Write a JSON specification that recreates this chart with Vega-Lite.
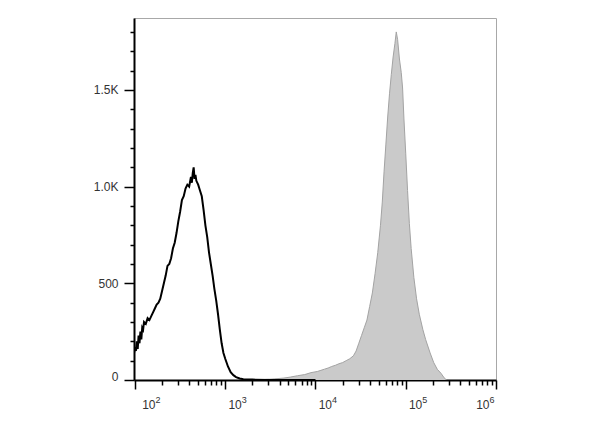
{
  "$schema": "https://vega.github.io/schema/vega-lite/v6.json",
  "width": 362,
  "height": 362,
  "autosize": {"type": "none"},
  "padding": {"left": 134, "top": 18, "right": 104, "bottom": 47},
  "background": "white",
  "config": {
    "view": {"stroke": "#a8a8a8", "strokeWidth": 1},
    "axis": {"labelFont": "Liberation Sans", "labelColor": "#333333", "domainColor": "#000000", "tickColor": "#000000", "grid": false, "title": null}
  },
  "datasets": {
    "stained": [
      {"fl": 2512, "count": 0}, {"fl": 2818, "count": 3}, {"fl": 3548, "count": 6}, {"fl": 4467, "count": 10},
      {"fl": 5248, "count": 15}, {"fl": 6310, "count": 22}, {"fl": 7586, "count": 28}, {"fl": 8913, "count": 38},
      {"fl": 10471, "count": 44}, {"fl": 11482, "count": 50}, {"fl": 12589, "count": 56}, {"fl": 13804, "count": 62},
      {"fl": 15136, "count": 70}, {"fl": 16596, "count": 76}, {"fl": 18197, "count": 84}, {"fl": 19953, "count": 90},
      {"fl": 21878, "count": 100}, {"fl": 23988, "count": 110}, {"fl": 26303, "count": 125}, {"fl": 28184, "count": 150},
      {"fl": 30200, "count": 190}, {"fl": 32359, "count": 230}, {"fl": 34674, "count": 270}, {"fl": 37154, "count": 310},
      {"fl": 39811, "count": 380}, {"fl": 42658, "count": 450}, {"fl": 45709, "count": 550}, {"fl": 48978, "count": 660},
      {"fl": 52481, "count": 800}, {"fl": 54954, "count": 920}, {"fl": 57544, "count": 1080}, {"fl": 60256, "count": 1220},
      {"fl": 63096, "count": 1360}, {"fl": 66069, "count": 1480}, {"fl": 69183, "count": 1580}, {"fl": 72444, "count": 1670},
      {"fl": 75858, "count": 1740}, {"fl": 78524, "count": 1800}, {"fl": 81283, "count": 1760}, {"fl": 85114, "count": 1660},
      {"fl": 89125, "count": 1590}, {"fl": 92257, "count": 1510}, {"fl": 95499, "count": 1350}, {"fl": 100000, "count": 1170},
      {"fl": 104713, "count": 980}, {"fl": 109648, "count": 810}, {"fl": 114815, "count": 680}, {"fl": 123027, "count": 530},
      {"fl": 131826, "count": 420}, {"fl": 141254, "count": 340}, {"fl": 154882, "count": 260}, {"fl": 165959, "count": 210},
      {"fl": 186209, "count": 140}, {"fl": 204174, "count": 90}, {"fl": 223872, "count": 55}, {"fl": 245471, "count": 35},
      {"fl": 263027, "count": 15}, {"fl": 281838, "count": 0}
    ],
    "isotype": [
      {"fl": 97.7, "count": 140}, {"fl": 100, "count": 170}, {"fl": 102.3, "count": 150}, {"fl": 104.7, "count": 200},
      {"fl": 107.2, "count": 160}, {"fl": 109.6, "count": 230}, {"fl": 112.2, "count": 190}, {"fl": 114.8, "count": 250},
      {"fl": 117.5, "count": 210}, {"fl": 120.2, "count": 270}, {"fl": 123.0, "count": 260}, {"fl": 125.9, "count": 300},
      {"fl": 131.8, "count": 290}, {"fl": 138.0, "count": 320}, {"fl": 144.5, "count": 310}, {"fl": 151.4, "count": 330},
      {"fl": 158.5, "count": 350}, {"fl": 166.0, "count": 370}, {"fl": 173.8, "count": 390}, {"fl": 182.0, "count": 400},
      {"fl": 190.5, "count": 420}, {"fl": 199.5, "count": 460}, {"fl": 208.9, "count": 500}, {"fl": 218.8, "count": 540},
      {"fl": 229.1, "count": 590}, {"fl": 239.9, "count": 600}, {"fl": 251.2, "count": 630}, {"fl": 263.0, "count": 680},
      {"fl": 275.4, "count": 710}, {"fl": 288.4, "count": 760}, {"fl": 302.0, "count": 820}, {"fl": 316.2, "count": 870},
      {"fl": 331.1, "count": 930}, {"fl": 346.7, "count": 950}, {"fl": 363.1, "count": 990}, {"fl": 380.2, "count": 1010},
      {"fl": 398.1, "count": 1000}, {"fl": 416.9, "count": 1050}, {"fl": 426.6, "count": 1020}, {"fl": 436.5, "count": 1070},
      {"fl": 446.7, "count": 1100}, {"fl": 457.1, "count": 1040}, {"fl": 467.7, "count": 1060}, {"fl": 478.6, "count": 1030},
      {"fl": 501.2, "count": 1010}, {"fl": 524.8, "count": 980}, {"fl": 549.5, "count": 950}, {"fl": 575.4, "count": 880},
      {"fl": 602.6, "count": 800}, {"fl": 631.0, "count": 740}, {"fl": 660.7, "count": 660}, {"fl": 691.8, "count": 600},
      {"fl": 724.4, "count": 540}, {"fl": 758.6, "count": 470}, {"fl": 794.3, "count": 410}, {"fl": 831.8, "count": 340},
      {"fl": 871.0, "count": 260}, {"fl": 912.0, "count": 190}, {"fl": 955.0, "count": 140}, {"fl": 1000, "count": 110},
      {"fl": 1071.5, "count": 70}, {"fl": 1148, "count": 40}, {"fl": 1230, "count": 25}, {"fl": 1318, "count": 15},
      {"fl": 1445, "count": 8}, {"fl": 1585, "count": 4}, {"fl": 1995, "count": 2}, {"fl": 3162, "count": 0},
      {"fl": 10000, "count": 0}
    ]
  },
  "resolve": {"axis": {"x": "independent", "y": "independent"}},
  "layer": [
    {
      "data": {"name": "stained"},
      "mark": {"type": "area", "color": "#cacaca", "opacity": 1, "clip": true},
      "encoding": {
        "x": {"field": "fl", "type": "quantitative", "scale": {"type": "log", "domain": [97.5, 1000000], "nice": false},
          "axis": {
            "orient": "bottom",
            "values": [100, 1000, 10000, 100000, 1000000],
            "labelExpr": "'10'",
            "tickSize": 9,
            "tickWidth": 1.5,
            "domainWidth": 2,
            "labelAlign": "right",
            "labelOffset": {"condition": [{"test": "datum.value==100", "value": 20}, {"test": "datum.value==1000000", "value": -7}], "value": 16},
            "labelBaseline": "top",
            "labelFontSize": 12,
            "labelPadding": 10,
            "labelOverlap": false,
            "labelBound": false,
            "labelFlush": false
          }
        },
        "y": {"field": "count", "type": "quantitative", "scale": {"domain": [0, 1872], "nice": false},
          "axis": {
            "orient": "left",
            "values": [0, 500, 1000, 1500],
            "labelExpr": "datum.value==0?'0':datum.value==500?'500':datum.value==1000?'1.0K':'1.5K'",
            "tickSize": 10,
            "tickWidth": 1.5,
            "domainWidth": 2,
            "labelFontSize": 12,
            "labelPadding": 6,
            "labelOffset": {"condition": {"test": "datum.value==0", "value": -4}, "value": 0},
            "labelOverlap": false,
            "labelFlush": false
          }
        }
      }
    },
    {
      "data": {"name": "stained"},
      "mark": {"type": "line", "color": "#a3a3a3", "strokeWidth": 1, "clip": true},
      "encoding": {
        "x": {"field": "fl", "type": "quantitative",
          "axis": {
            "orient": "bottom",
            "values": [100, 1000, 10000, 100000, 1000000],
            "labelExpr": "format(log(datum.value)/LN10, 'd')",
            "ticks": false,
            "tickSize": 0,
            "domain": false,
            "labelAlign": "left",
            "labelOffset": {"condition": [{"test": "datum.value==100", "value": 20}, {"test": "datum.value==1000000", "value": -7}], "value": 16},
            "labelBaseline": "top",
            "labelFontSize": 9,
            "labelPadding": 15,
            "labelOverlap": false,
            "labelBound": false,
            "labelFlush": false
          }
        },
        "y": {"field": "count", "type": "quantitative", "axis": null}
      }
    },
    {
      "data": {"name": "isotype"},
      "mark": {"type": "line", "color": "#000000", "strokeWidth": 2, "clip": true},
      "encoding": {
        "x": {"field": "fl", "type": "quantitative",
          "axis": {
            "orient": "bottom",
            "values": [200,300,400,500,600,700,800,900,2000,3000,4000,5000,6000,7000,8000,9000,20000,30000,40000,50000,60000,70000,80000,90000,200000,300000,400000,500000,600000,700000,800000,900000],
            "labels": false,
            "domain": false,
            "tickSize": 5,
            "tickWidth": 1.5
          }
        },
        "y": {"field": "count", "type": "quantitative",
          "axis": {
            "orient": "left",
            "values": [100,200,300,400,600,700,800,900,1100,1200,1300,1400,1600,1700,1800],
            "labels": false,
            "domain": false,
            "tickSize": 4,
            "tickWidth": 1.5
          }
        }
      }
    }
  ]
}
